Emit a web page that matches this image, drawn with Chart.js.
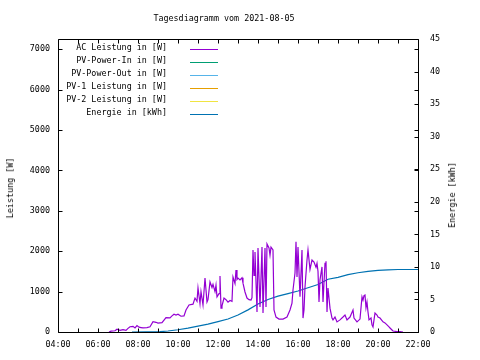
<!DOCTYPE html>
<html>
<head>
<meta charset="utf-8">
<script src="https://cdn.jsdelivr.net/npm/chart.js@4/dist/chart.umd.min.js"></script>
<style>
  html, body { margin: 0; padding: 0; background: #fff; }
  .wrap { position: relative; width: 480px; height: 360px; font-family: "DejaVu Sans Mono", monospace; font-size: 8.4px; color: #000; }
  #chart { position: absolute; left: 0; top: 0; }
  .title { position: absolute; left: 224px; top: 18px; transform: translate(-50%, -50%); white-space: nowrap; }
  .ytitle { position: absolute; white-space: nowrap; transform: translate(-50%, -50%) rotate(-90deg); }
  .legend { position: absolute; left: 0; top: 0; }
  .lg-row { position: absolute; height: 13px; }
  .lg-text { position: absolute; right: 0; top: 0; white-space: nowrap; line-height: 13px; }
  .lg-line { position: absolute; height: 1px; }
</style>
</head>
<body>
<div class="wrap">
  <canvas id="chart" width="480" height="360"></canvas>
  <div class="title">Tagesdiagramm vom 2021-08-05</div>
  <div class="ytitle" style="left:10px;top:188px">Leistung [W]</div>
  <div class="ytitle" style="left:452px;top:195px">Energie [kWh]</div>
  <div class="legend" id="legend"></div>
</div>
<script>
// ── Data ──────────────────────────────────────────────────────────────────
// time in hours of day
const acTimes = [
  6.55, 6.65, 6.85, 6.95, 7.10, 7.25, 7.40, 7.50, 7.60, 7.75, 7.85, 7.95, 8.05, 8.15, 8.25, 8.45,
  8.60, 8.75, 8.90, 9.00, 9.20, 9.40, 9.60, 9.70, 9.80, 9.90, 10.00, 10.15, 10.30, 10.40, 10.55,
  10.75, 10.85, 10.95, 11.00, 11.10, 11.15, 11.25, 11.35, 11.45, 11.50, 11.60, 11.70, 11.75, 11.85,
  11.90, 11.95, 12.05, 12.10, 12.15, 12.20, 12.30, 12.40, 12.50, 12.60, 12.70, 12.75, 12.85, 12.90,
  12.95, 13.00, 13.10, 13.20, 13.25, 13.35, 13.45, 13.55, 13.65, 13.70, 13.75, 13.80, 13.85, 13.95,
  14.00, 14.10, 14.20, 14.25, 14.35, 14.40, 14.45, 14.55, 14.60, 14.65, 14.75, 14.80, 14.90, 15.05,
  15.25, 15.45, 15.60, 15.70, 15.75, 15.85, 15.90, 15.95, 16.00, 16.10, 16.20, 16.25, 16.30, 16.35,
  16.45, 16.50, 16.60, 16.70, 16.80, 16.90, 16.95, 17.00, 17.05, 17.10, 17.20, 17.25, 17.35, 17.40,
  17.45, 17.50, 17.60, 17.70, 17.75, 17.85, 17.95, 18.10, 18.25, 18.35, 18.45, 18.60, 18.75, 18.80,
  18.95, 19.10, 19.20, 19.25, 19.30, 19.35, 19.40, 19.45, 19.50, 19.55, 19.65, 19.70, 19.75, 19.85,
  19.95, 20.00, 20.10, 20.25, 20.35, 20.45, 20.55, 20.60, 20.70, 20.75, 20.95, 21.10, 21.25
];
const acPower = [
  0, 20, 30, 70, 40, 60, 40, 90, 130, 140, 100, 160, 120, 110, 100, 110,
  130, 255, 240, 220, 230, 355, 350, 400, 440, 420, 440, 390, 400, 545, 670,
  690, 840, 760, 1090, 700, 1000, 670, 1335, 740, 800, 1240, 1100, 1180, 1000,
  1160, 870, 950, 1385, 590, 650, 840, 800, 740, 780, 760, 1360, 1200, 1535,
  1300, 1335, 1290, 1340, 1210, 990, 840, 800, 790, 850, 2030, 1400, 1980, 495,
  2080, 620, 2100, 470, 2080, 620, 2180, 2080, 1900, 2100, 2030, 545, 370, 320,
  320, 370, 545, 715, 1040, 1460, 2230, 1360, 2100, 870, 2030, 345, 545, 1115,
  1780, 2030, 1550, 1780, 1730, 1600, 1700, 1500, 740, 1290, 1610, 740, 1700, 1750,
  495, 1090, 590, 345, 300, 370, 250, 300, 370, 420, 300, 370, 545, 345,
  250, 320, 870, 790, 900, 915, 600, 740, 495, 300, 345, 175, 125, 470,
  420, 370, 345, 250, 225, 175, 125, 100, 50, 25, 10, 10, 0
];

const energyTimes = [7.7, 9.1, 9.5, 10.0, 10.5, 11.0, 11.5, 12.0, 12.5, 13.0, 13.5, 14.0, 14.5, 15.0,
  15.5, 16.0, 16.5, 17.0, 17.5, 18.0, 18.5, 19.0, 19.5, 20.0, 20.5, 21.0, 22.0];
const energyKWh = [0, 0.05, 0.15, 0.35, 0.6, 0.9, 1.2, 1.6, 2.0, 2.6, 3.4, 4.3, 5.0, 5.5,
  5.9, 6.3, 6.8, 7.3, 8.1, 8.4, 8.8, 9.1, 9.3, 9.45, 9.55, 9.6, 9.6];

const seriesLabels = ['AC Leistung in [W]', 'PV-Power-In in [W]', 'PV-Power-Out in [W]',
  'PV-1 Leistung in [W]', 'PV-2 Leistung in [W]', 'Energie in [kWh]'];
const seriesColors = ['#9400d3', '#009e73', '#56b4e9', '#e69f00', '#f0e442', '#0072b2'];

const hourTicks = [4, 5, 6, 7, 8, 9, 10, 11, 12, 13, 14, 15, 16, 17, 18, 19, 20, 21, 22];
const hourLabels = ['04:00', '', '06:00', '', '08:00', '', '10:00', '', '12:00', '', '14:00', '',
  '16:00', '', '18:00', '', '20:00', '', '22:00'];
const powerTicks = [0, 1000, 2000, 3000, 4000, 5000, 6000, 7000];
const energyTicks = [0, 5, 10, 15, 20, 25, 30, 35, 40, 45];

// ── Chart ─────────────────────────────────────────────────────────────────
const FONT = { family: '"DejaVu Sans Mono", monospace', size: 8.4 };
const pts = (xs, ys) => xs.map((x, i) => ({ x, y: ys[i] }));
const fixedTicks = list => s => { s.ticks = list.map(v => ({ value: v })); };

// gnuplot-like frame with inward ticks
const frameTicks = {
  id: 'frameTicks',
  afterDatasetsDraw(chart) {
    const { ctx, chartArea: a, scales } = chart;
    const L = a.left + 0.5, R = a.right + 0.5, T = a.top + 0.5, B = a.bottom + 0.5;
    ctx.save();
    ctx.strokeStyle = '#000';
    ctx.lineWidth = 1;
    ctx.beginPath();
    scales.x.ticks.forEach(t => {
      const px = Math.round(scales.x.getPixelForValue(t.value)) + 0.5;
      ctx.moveTo(px, B); ctx.lineTo(px, B - 4);
      ctx.moveTo(px, T); ctx.lineTo(px, T + 4);
    });
    scales.y.ticks.forEach(t => {
      const py = Math.round(scales.y.getPixelForValue(t.value)) + 0.5;
      ctx.moveTo(L, py); ctx.lineTo(L + 4, py);
      ctx.moveTo(R, py); ctx.lineTo(R - 4, py);
    });
    scales.y2.ticks.forEach(t => {
      const py = Math.round(scales.y2.getPixelForValue(t.value)) + 0.5;
      ctx.moveTo(R, py); ctx.lineTo(R - 4, py);
    });
    ctx.rect(L, T, R - L, B - T);
    ctx.stroke();
    ctx.restore();
  }
};

const chart = new Chart(document.getElementById('chart'), {
  type: 'line',
  data: {
    datasets: [
      { label: seriesLabels[0], data: pts(acTimes, acPower), yAxisID: 'y' },
      { label: seriesLabels[1], data: [], yAxisID: 'y' },
      { label: seriesLabels[2], data: [], yAxisID: 'y' },
      { label: seriesLabels[3], data: [], yAxisID: 'y' },
      { label: seriesLabels[4], data: [], yAxisID: 'y' },
      { label: seriesLabels[5], data: pts(energyTimes, energyKWh), yAxisID: 'y2' }
    ].map((d, i) => ({
      ...d,
      borderColor: seriesColors[i],
      backgroundColor: seriesColors[i],
      borderWidth: 1.2,
      pointRadius: 0,
      tension: 0,
      fill: false
    }))
  },
  options: {
    responsive: false,
    animation: false,
    events: [],
    layout: { padding: { top: 39, left: 0, right: 0, bottom: 0 } },
    plugins: { legend: { display: false }, title: { display: false }, tooltip: { enabled: false } },
    scales: {
      x: {
        type: 'linear', min: 4, max: 22,
        grid: { display: false }, border: { display: false },
        ticks: {
          autoSkip: false, maxRotation: 0, color: '#000', font: FONT, padding: 0,
          callback: v => hourLabels[hourTicks.indexOf(v)] ?? ''
        },
        afterBuildTicks: fixedTicks(hourTicks),
        afterFit: s => { s.height = 28; }
      },
      y: {
        position: 'left', min: 0, max: 7250,
        grid: { display: false }, border: { display: false },
        ticks: { autoSkip: false, color: '#000', font: FONT, padding: 0, callback: v => String(v) },
        afterBuildTicks: fixedTicks(powerTicks),
        afterFit: s => { s.width = 58; }
      },
      y2: {
        position: 'right', min: 0, max: 45,
        grid: { display: false }, border: { display: false },
        ticks: { autoSkip: false, color: '#000', font: FONT, padding: 4, callback: v => String(v) },
        afterBuildTicks: fixedTicks(energyTicks),
        afterFit: s => { s.width = 62; }
      }
    }
  },
  plugins: [frameTicks]
});

// ── gnuplot-style legend (right-aligned text, line sample) ───────────────
const legendEl = document.getElementById('legend');
chart.data.datasets.forEach((ds, i) => {
  const cy = 47 + i * 13;
  const row = document.createElement('div');
  row.className = 'lg-row';
  row.style.cssText = `left:0;width:167px;top:${cy - 6.5}px`;
  row.innerHTML = `<span class="lg-text">${ds.label}</span>`;
  legendEl.appendChild(row);
  const line = document.createElement('div');
  line.className = 'lg-line';
  line.style.cssText = `left:190px;width:28px;top:${cy + 2}px;background:${ds.borderColor}`;
  legendEl.appendChild(line);
});
</script>
</body>
</html>
